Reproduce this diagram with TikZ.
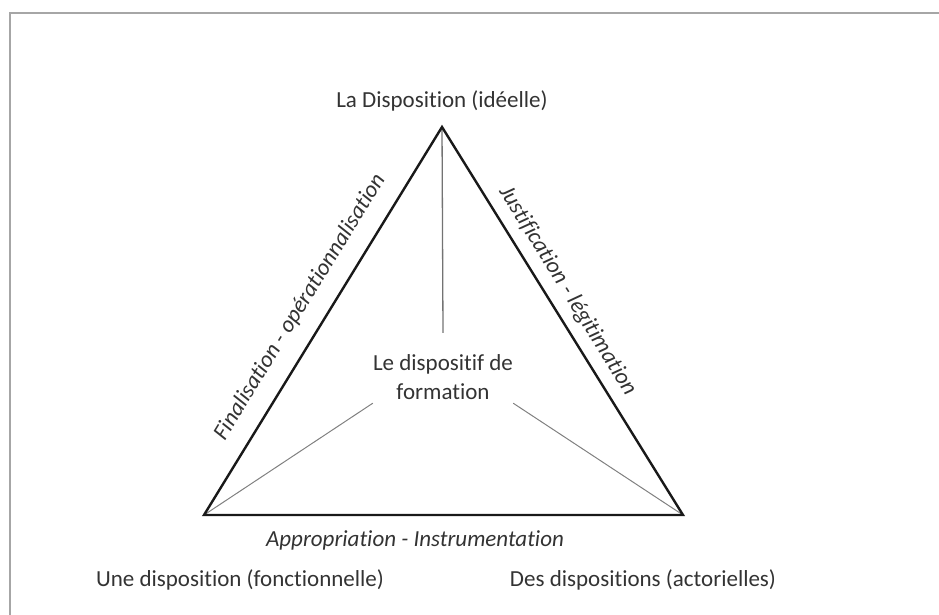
\documentclass[tikz,border=0pt]{standalone}
\usepackage{fontspec}
\setmainfont{Carlito}[Ligatures=NoCommon]
\begin{document}
\begin{tikzpicture}[x=1pt,y=-1pt,
  txt/.style={font=\fontsize{23}{29}\selectfont, text=black!80, inner sep=0pt},
  itl/.style={txt, font=\fontsize{23}{29}\selectfont\itshape},
  edge/.style={line width=2.4pt, black!90, line join=miter},
  spoke/.style={line width=1pt, black!50},
  frame/.style={line width=2pt, black!35}]
\useasboundingbox (0,0) rectangle (939,615);
\draw[frame] (939,13) -- (10,13) -- (10,615);
\coordinate (apex) at (442,127);
\coordinate (bl) at (204,515);
\coordinate (br) at (683,515);
\node[txt, align=center, minimum width=140pt, minimum height=88pt] (hub) at (443,377) {Le dispositif de\\formation};
\draw[spoke, line width=1.3pt, black!55] (apex) -- (hub.north);
\draw[spoke] (bl) -- ([yshift=18pt]hub.south west);
\draw[spoke] (br) -- ([yshift=18pt]hub.south east);
\draw[edge] (apex) -- (br) -- (bl) -- cycle;
\path (bl) -- (apex) node[itl, pos=0.50, sloped, above=17pt] (fin) {Finalisation - opérationnalisation};
\path (apex) -- (br) node[itl, pos=0.45, sloped, above=10pt] (jus) {Justification - légitimation};
\node[txt] (top) at (442,101) {La Disposition (idéelle)};
\node[itl] (app) at (415,540) {Appropriation - Instrumentation};
\node[txt] (une) at (240,580) {Une disposition (fonctionnelle)};
\node[txt] (des) at (643,580) {Des dispositions (actorielles)};
\end{tikzpicture}
\end{document}
